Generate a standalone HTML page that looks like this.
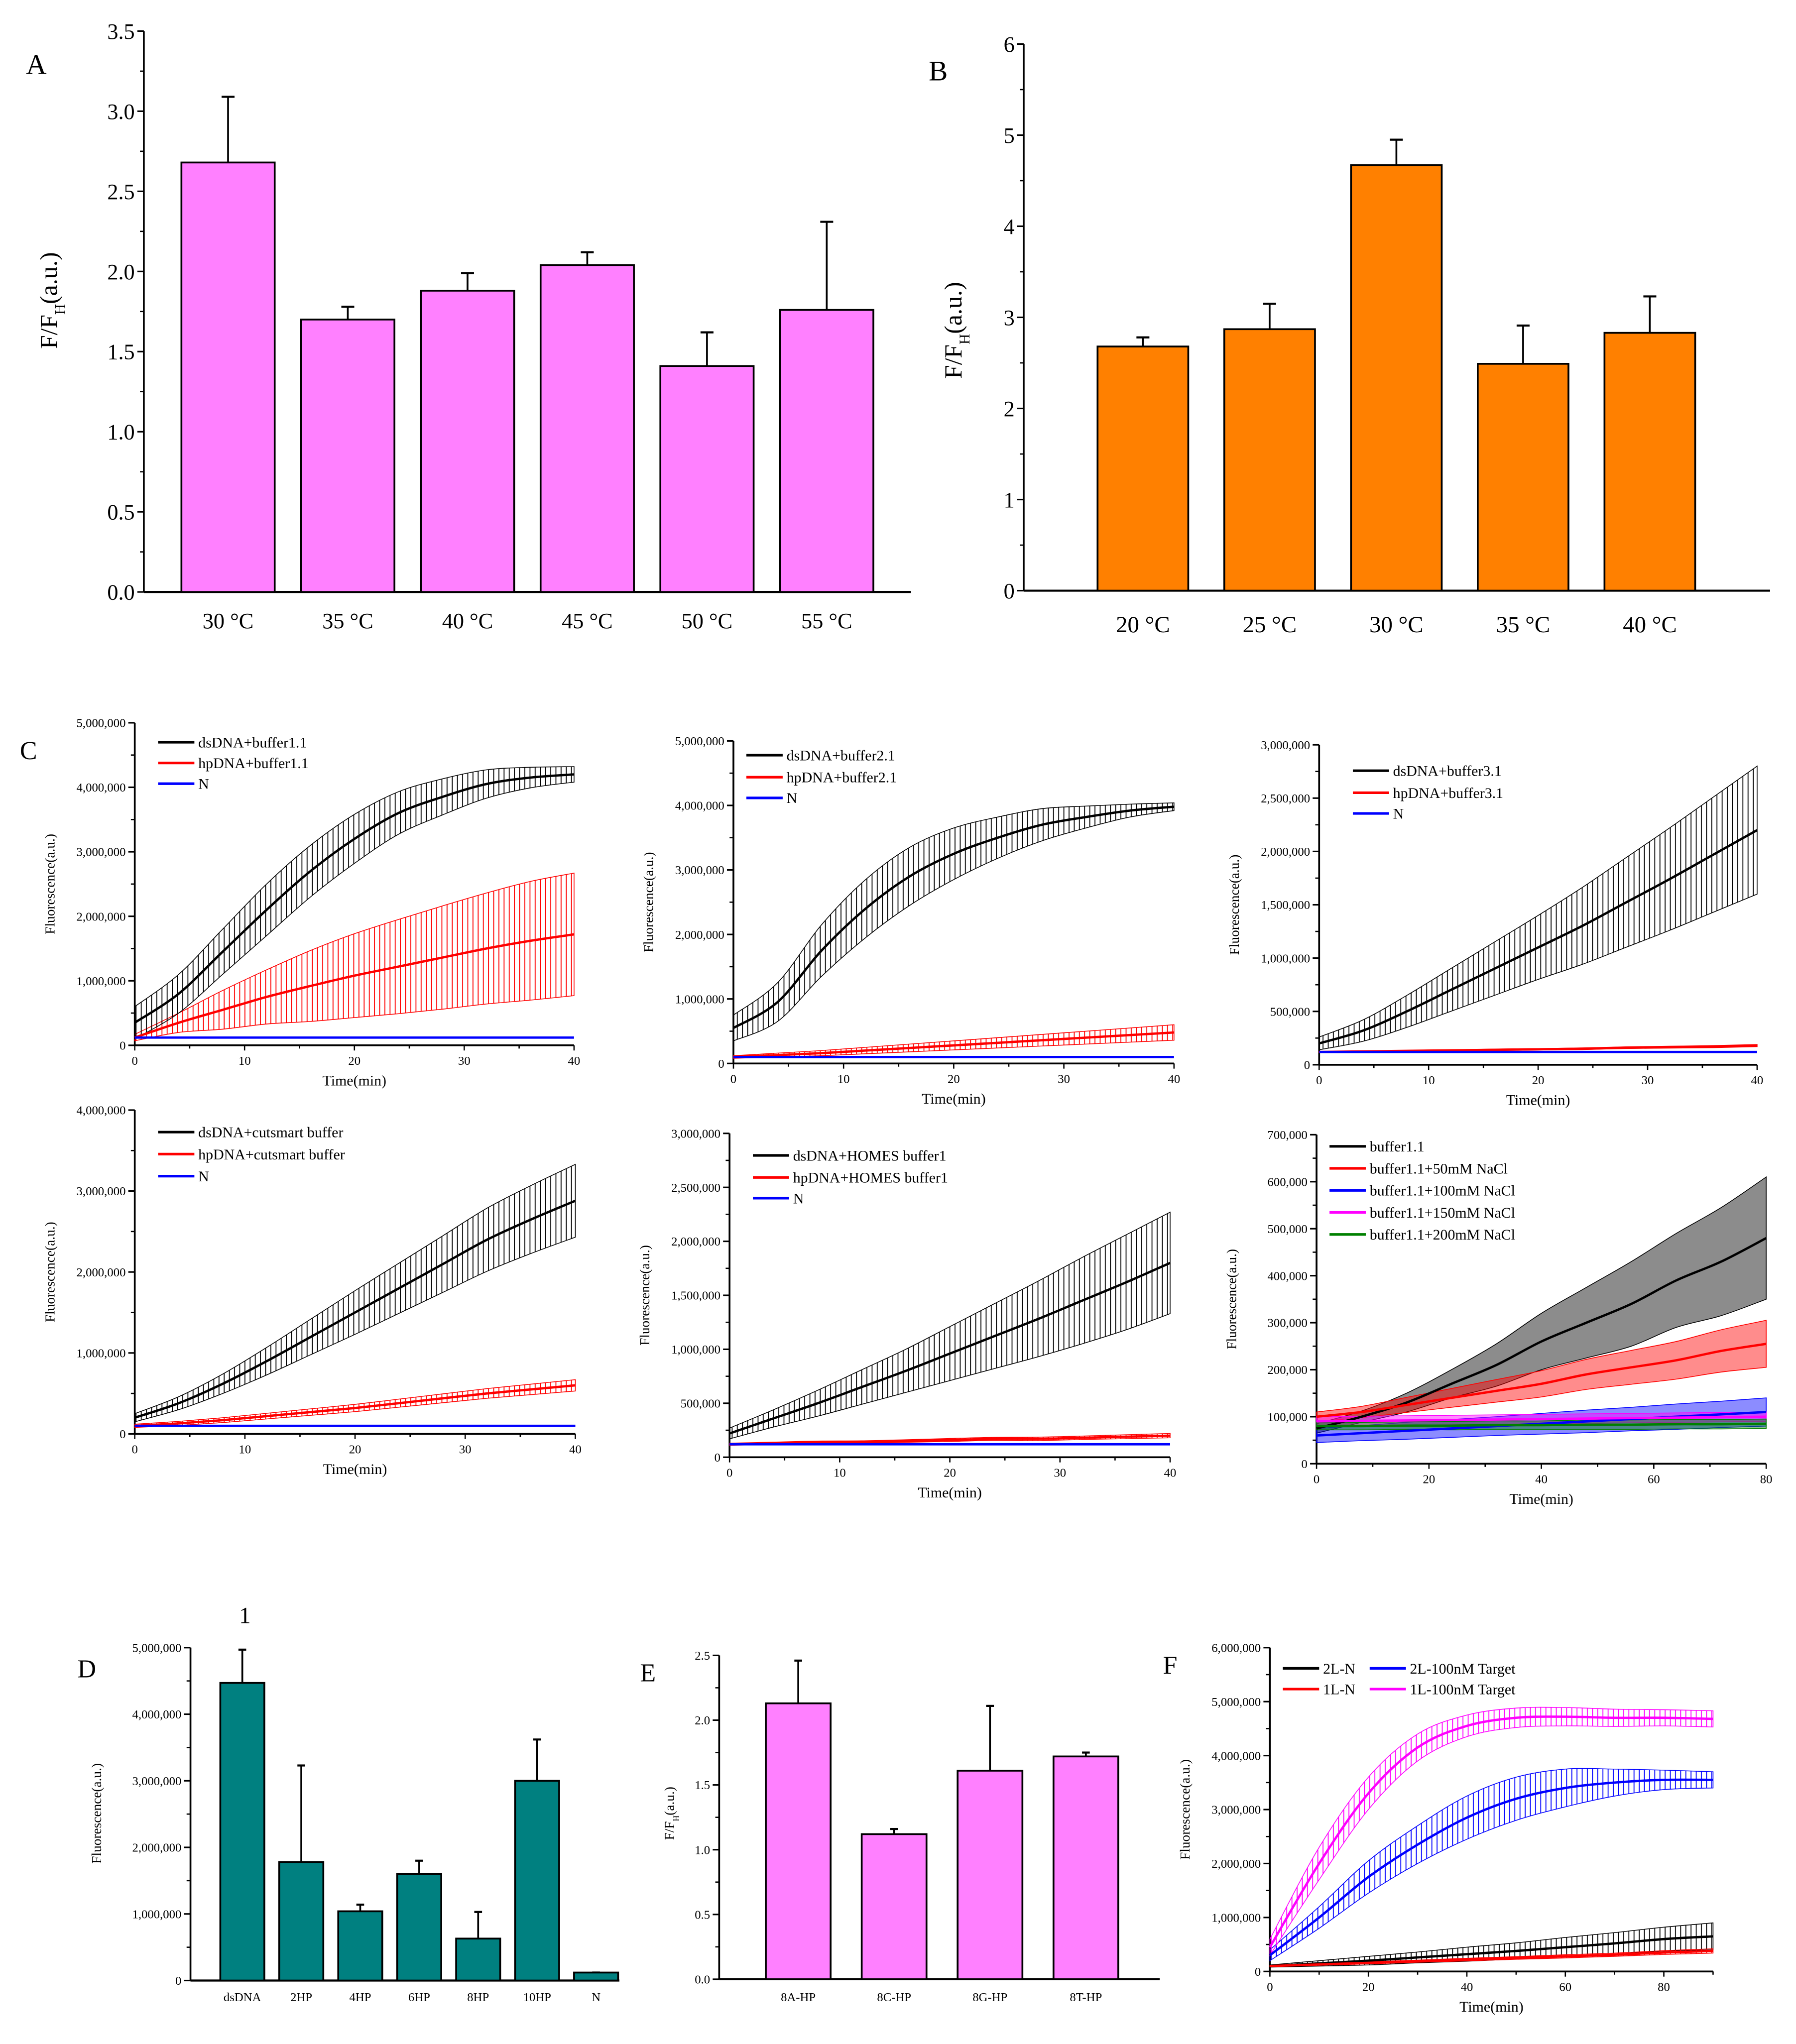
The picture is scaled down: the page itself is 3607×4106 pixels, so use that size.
<!DOCTYPE html>
<html><head><meta charset="utf-8"><style>
html,body{margin:0;padding:0;background:#fff}
svg{display:block;font-family:"Liberation Serif",serif}
</style></head><body>
<svg id="fig" xmlns="http://www.w3.org/2000/svg" width="3607" height="4106" viewBox="0 0 1386 1578" preserveAspectRatio="none">
<defs></defs>
</svg>
<script>
// ---------- data ----------
const catA = ["30 °C","35 °C","40 °C","45 °C","50 °C","55 °C"];
const valA = [2.68,1.70,1.88,2.04,1.41,1.76];
const errA = [0.41,0.08,0.11,0.08,0.21,0.55];
const catB = ["20 °C","25 °C","30 °C","35 °C","40 °C"];
const valB = [2.68,2.87,4.67,2.49,2.83];
const errB = [0.10,0.28,0.28,0.42,0.40];
const catD = ["dsDNA","2HP","4HP","6HP","8HP","10HP","N"];
const valD = [4470000,1780000,1040000,1600000,630000,3000000,120000];
const errD = [500000,1450000,100000,200000,400000,620000,0];
const catE = ["8A-HP","8C-HP","8G-HP","8T-HP"];
const valE = [2.13,1.12,1.61,1.72];
const errE = [0.33,0.04,0.50,0.03];

const t40 = [0,4,8,12,16,20,24,28,32,36,40];
const t80 = [0,8,16,24,32,40,48,56,64,72,80];
const t90 = [0,10,20,30,40,50,60,70,80,90];

const c1Black=[0.35,0.8,1.45,2.1,2.7,3.2,3.6,3.85,4.05,4.15,4.2];
const c1BlackErr=[0.25,0.3,0.35,0.4,0.4,0.38,0.33,0.28,0.22,0.16,0.12];
const c1Red=[0.12,0.35,0.55,0.75,0.92,1.08,1.22,1.36,1.5,1.62,1.72];
const c1RedErr=[0.05,0.15,0.3,0.42,0.55,0.65,0.73,0.8,0.86,0.92,0.95];
const c1Blue=[0.12,0.12,0.12,0.12,0.12,0.12,0.12,0.12,0.12,0.12,0.12];

const c2Black=[0.55,0.95,1.75,2.4,2.9,3.25,3.5,3.7,3.82,3.92,3.98];
const c2BlackErr=[0.2,0.3,0.4,0.45,0.45,0.4,0.32,0.25,0.17,0.1,0.06];
const c2Red=[0.1,0.13,0.16,0.2,0.24,0.28,0.32,0.36,0.4,0.44,0.48];
const c2RedErr=[0.02,0.03,0.04,0.05,0.06,0.07,0.08,0.09,0.1,0.11,0.12];
const c2Blue=[0.1,0.1,0.1,0.1,0.1,0.1,0.1,0.1,0.1,0.1,0.1];

const c3Black=[0.2,0.32,0.5,0.7,0.9,1.1,1.3,1.52,1.74,1.97,2.2];
const c3BlackErr=[0.06,0.1,0.15,0.2,0.25,0.3,0.36,0.42,0.48,0.54,0.6];
const c3Red=[0.12,0.125,0.13,0.135,0.14,0.145,0.15,0.16,0.165,0.17,0.18];
const c3RedErr=[0.005,0.005,0.006,0.006,0.007,0.007,0.008,0.008,0.009,0.01,0.01];
const c3Blue=[0.12,0.12,0.12,0.12,0.12,0.12,0.12,0.12,0.12,0.12,0.12];

const c4Black=[0.2,0.38,0.62,0.9,1.2,1.5,1.8,2.1,2.4,2.65,2.88];
const c4BlackErr=[0.05,0.08,0.12,0.17,0.22,0.27,0.31,0.35,0.39,0.42,0.45];
const c4Red=[0.1,0.13,0.17,0.22,0.27,0.32,0.38,0.44,0.5,0.55,0.6];
const c4RedErr=[0.02,0.025,0.03,0.035,0.04,0.045,0.05,0.055,0.06,0.065,0.07];
const c4Blue=[0.1,0.1,0.1,0.1,0.1,0.1,0.1,0.1,0.1,0.1,0.1];

const c5Black=[0.22,0.36,0.5,0.65,0.8,0.96,1.12,1.28,1.45,1.62,1.8];
const c5BlackErr=[0.05,0.08,0.12,0.16,0.2,0.25,0.3,0.35,0.4,0.44,0.47];
const c5Red=[0.12,0.13,0.14,0.14,0.15,0.16,0.17,0.17,0.18,0.19,0.2];
const c5RedErr=[0.01,0.01,0.01,0.012,0.012,0.014,0.014,0.016,0.016,0.018,0.02];
const c5Blue=[0.12,0.12,0.12,0.12,0.12,0.12,0.12,0.12,0.12,0.12,0.12];

const c6Black=[0.075,0.1,0.13,0.17,0.21,0.26,0.3,0.34,0.39,0.43,0.48];
const c6BlackErr=[0.01,0.012,0.02,0.03,0.045,0.06,0.075,0.09,0.1,0.115,0.13];
const c6Red=[0.1,0.11,0.125,0.14,0.155,0.17,0.19,0.205,0.22,0.24,0.255];
const c6RedErr=[0.01,0.012,0.016,0.02,0.024,0.028,0.032,0.036,0.04,0.045,0.05];
const c6Blue=[0.06,0.065,0.07,0.075,0.08,0.085,0.09,0.095,0.1,0.105,0.11];
const c6BlueErr=[0.015,0.016,0.018,0.019,0.02,0.022,0.024,0.025,0.027,0.028,0.03];
const c6Mag=[0.09,0.091,0.092,0.093,0.094,0.095,0.096,0.097,0.098,0.099,0.1];
const c6MagErr=[0.01,0.01,0.01,0.01,0.01,0.01,0.01,0.01,0.01,0.01,0.01];
const c6Green=[0.08,0.08,0.081,0.081,0.082,0.082,0.083,0.083,0.084,0.084,0.085];
const c6GreenErr=[0.008,0.008,0.008,0.009,0.009,0.009,0.01,0.01,0.01,0.01,0.01];

const fMag=[0.45,2.0,3.3,4.15,4.55,4.7,4.72,4.7,4.7,4.68];
const fMagErr=[0.15,0.3,0.3,0.25,0.2,0.18,0.17,0.16,0.15,0.15];
const fBlue=[0.3,1.0,1.75,2.35,2.85,3.2,3.4,3.5,3.55,3.55];
const fBlueErr=[0.1,0.2,0.3,0.35,0.4,0.4,0.35,0.25,0.18,0.15];
const fBlack=[0.1,0.15,0.2,0.26,0.32,0.38,0.45,0.52,0.6,0.65];
const fBlackErr=[0.02,0.05,0.08,0.1,0.13,0.15,0.18,0.2,0.22,0.25];
const fRed=[0.1,0.13,0.16,0.19,0.22,0.25,0.28,0.31,0.35,0.38];
const fRedErr=[0.01,0.015,0.02,0.02,0.025,0.025,0.03,0.03,0.035,0.04];

// ---------- helpers ----------
const NS="http://www.w3.org/2000/svg";
const svg=document.getElementById('fig');
const defs=svg.querySelector('defs');
function mk(tag,attrs,parent){const e=document.createElementNS(NS,tag);for(const k in attrs)e.setAttribute(k,attrs[k]);(parent||svg).appendChild(e);return e;}
function txt(s,x,y,size,anchor,parent){const e=mk('text',{x:x,y:y,'font-size':size,'text-anchor':anchor||'middle',fill:'#000'},parent);e.textContent=s;return e;}
function fmt(v){return Math.round(v).toLocaleString('en-US');}
function ylabelFH(x,y,size,parent){
  const e=mk('text',{transform:`translate(${x},${y}) rotate(-90)`,'font-size':size,'text-anchor':'middle',fill:'#000'},parent);
  
  
  const a=mk('tspan',{},e);a.textContent='F/F';
  const b=mk('tspan',{'baseline-shift':'sub','font-size':size*0.6},e);b.textContent='H';
  const c=mk('tspan',{},e);c.textContent='(a.u.)';
}
function panelLetter(s,x,y,size){const e=txt(s,x,y,size,'middle');}

function yAxis(g,ax,ytop,ybot,ymax,step,fs,tickFmt,minor){
  const sy=v=>ybot-v/ymax*(ybot-ytop);
  const ln=mk('line',{x1:ax,y1:ytop,x2:ax,y2:ybot,stroke:'#000','stroke-width':1.4},g);
  
  for(let v=0;v<=ymax+1e-9;v+=step){
    mk('line',{x1:ax-5,y1:sy(v),x2:ax,y2:sy(v),stroke:'#000','stroke-width':1.2},g);
    const t=txt(tickFmt(v),ax-7,sy(v)+fs*0.35,fs,'end',g);
    
    if(minor&&v+step/2<=ymax) mk('line',{x1:ax-3,y1:sy(v+step/2),x2:ax,y2:sy(v+step/2),stroke:'#000','stroke-width':1},g);
  }
  return sy;
}
function barChart(name,cfg){
  const g=mk('g',{});
  const sy=yAxis(g,cfg.ax,cfg.ytop,cfg.ybot,cfg.ymax,cfg.step,cfg.fs,cfg.tickFmt,true);
  const xl=mk('line',{x1:cfg.ax,y1:cfg.ybot,x2:cfg.xend,y2:cfg.ybot,stroke:'#000','stroke-width':1.6},g);
  
  const n=cfg.cats.length;
  for(let i=0;i<n;i++){
    const cx=cfg.c0+i*cfg.dx;
    const top=sy(cfg.vals[i]), eTop=sy(cfg.vals[i]+cfg.errs[i]);
    const el=mk('line',{x1:cx,y1:top,x2:cx,y2:eTop,stroke:'#000','stroke-width':1.4},g);
    
    mk('line',{x1:cx-cfg.cap,y1:eTop,x2:cx+cfg.cap,y2:eTop,stroke:'#000','stroke-width':1.6},g);
    const r=mk('rect',{x:cx-cfg.bw/2,y:top,width:cfg.bw,height:cfg.ybot-top,fill:cfg.color,stroke:'#000','stroke-width':1.4},g);
    
    const l=txt(cfg.cats[i],cx,cfg.labY,cfg.lfs,'middle',g);
    
  }
  return g;
}
let patId=0;
function hatch(color){
  const id='h'+(patId++);
  const p=mk('pattern',{id:id,patternUnits:'userSpaceOnUse',width:4,height:10},defs);
  mk('line',{x1:1,y1:0,x2:1,y2:10,stroke:color,'stroke-width':0.7},p);
  return 'url(#'+id+')';
}
function smoothPath(pts){
  let d='M'+pts[0][0]+','+pts[0][1];
  for(let i=0;i<pts.length-1;i++){
    const p0=pts[Math.max(0,i-1)],p1=pts[i],p2=pts[i+1],p3=pts[Math.min(pts.length-1,i+2)];
    const c1=[p1[0]+(p2[0]-p0[0])/6,p1[1]+(p2[1]-p0[1])/6];
    const c2=[p2[0]-(p3[0]-p1[0])/6,p2[1]-(p3[1]-p1[1])/6];
    d+=`C${c1[0]},${c1[1]} ${c2[0]},${c2[1]} ${p2[0]},${p2[1]}`;
  }
  return d;
}
function lineChart(name,cfg){
  const g=mk('g',{});
  const sy=yAxis(g,cfg.ax,cfg.ytop,cfg.ybot,cfg.ymax,cfg.step,cfg.fs,v=>fmt(v*cfg.unit),true);
  const sx=t=>cfg.ax+t/cfg.xmax*(cfg.xend-cfg.ax);
  const xl=mk('line',{x1:cfg.ax,y1:cfg.ybot,x2:cfg.xend,y2:cfg.ybot,stroke:'#000','stroke-width':1.4},g);
  
  for(let t=0;t<=cfg.xmax+1e-9;t+=cfg.xstep){
    mk('line',{x1:sx(t),y1:cfg.ybot,x2:sx(t),y2:cfg.ybot+4,stroke:'#000','stroke-width':1},g);
    const l=txt(String(t),sx(t),cfg.ybot+15,cfg.fs,'middle',g);
    
    if(t+cfg.xstep/2<=cfg.xmax) mk('line',{x1:sx(t+cfg.xstep/2),y1:cfg.ybot,x2:sx(t+cfg.xstep/2),y2:cfg.ybot+2.5,stroke:'#000','stroke-width':1},g);
  }
  const xt=txt('Time(min)',(cfg.ax+cfg.xend)/2,cfg.ybot+31,cfg.fs+2,'middle',g);
  
  const yt=mk('text',{transform:`translate(${cfg.ax-62},${(cfg.ytop+cfg.ybot)/2}) rotate(-90)`,'font-size':cfg.fs+1,'text-anchor':'middle',fill:'#000'},g);
  yt.textContent='Fluorescence(a.u.)';
  
  cfg.series.forEach((s,si)=>{
    if(s.err){
      const up=s.v.map((v,i)=>[sx(cfg.t[i]),sy(v+s.err[i])]);
      const dn=s.v.map((v,i)=>[sx(cfg.t[i]),sy(v-s.err[i])]).reverse();
      const d=smoothPath(up)+' L'+smoothPath(dn).slice(1)+'Z';
      const band=mk('path',{d:d,fill:cfg.solid?s.c:hatch(s.c),'fill-opacity':cfg.solid?0.45:1,stroke:s.c,'stroke-width':0.6},g);
      
    }
  });
  cfg.series.forEach((s,si)=>{
    const pts=s.v.map((v,i)=>[sx(cfg.t[i]),sy(v)]);
    const p=mk('path',{d:smoothPath(pts),fill:'none',stroke:s.c,'stroke-width':1.8},g);
    
  });
  cfg.legend.forEach((L,i)=>{
    const lg=mk('g',{},g);
    mk('line',{x1:L.x,y1:L.y,x2:L.x+28,y2:L.y,stroke:L.c,'stroke-width':2},lg);
    txt(L.s,L.x+31,L.y+4,cfg.lgfs||11.5,'start',lg);
  });
}

// ---------- Panel A ----------
panelLetter('A',28,57,22);
barChart('chart-a',{cats:catA,vals:valA,errs:errA,ax:111,ytop:24,ybot:457,ymax:3.5,step:0.5,fs:17,tickFmt:v=>v.toFixed(1),xend:703,c0:176,dx:92.4,bw:72,cap:5,color:'#ff80ff',labY:485,lfs:17});
ylabelFH(44,232,19);
// ---------- Panel B ----------
panelLetter('B',724,62,22);
barChart('chart-b',{cats:catB,vals:valB,errs:errB,ax:790,ytop:34,ybot:456,ymax:6,step:1,fs:17,tickFmt:v=>String(v),xend:1366,c0:882,dx:97.8,bw:70,cap:5,color:'#ff8000',labY:488,lfs:18});
ylabelFH(742,255,19);

// ---------- Panel C ----------
panelLetter('C',22,586,20);
const B='#000',R='#ff0000',U='#0000ff',M='#ff00ff',G='#008000';
lineChart('chart-c1',{ax:104,ytop:558,ybot:807,ymax:5,step:1,unit:1e6,xend:443,xmax:40,xstep:10,fs:9.5,t:t40,
  series:[{v:c1Red,err:c1RedErr,c:R},{v:c1Black,err:c1BlackErr,c:B},{v:c1Blue,c:U}],
  legend:[{x:122,y:573,c:B,s:'dsDNA+buffer1.1'},{x:122,y:589,c:R,s:'hpDNA+buffer1.1'},{x:122,y:605,c:U,s:'N'}]});
lineChart('chart-c2',{ax:566,ytop:572,ybot:821,ymax:5,step:1,unit:1e6,xend:906,xmax:40,xstep:10,fs:9.5,t:t40,
  series:[{v:c2Red,err:c2RedErr,c:R},{v:c2Black,err:c2BlackErr,c:B},{v:c2Blue,c:U}],
  legend:[{x:576,y:583,c:B,s:'dsDNA+buffer2.1'},{x:576,y:600,c:R,s:'hpDNA+buffer2.1'},{x:576,y:616,c:U,s:'N'}]});
lineChart('chart-c3',{ax:1018,ytop:575,ybot:822,ymax:3,step:0.5,unit:1e6,xend:1356,xmax:40,xstep:10,fs:9.5,t:t40,
  series:[{v:c3Red,err:c3RedErr,c:R},{v:c3Black,err:c3BlackErr,c:B},{v:c3Blue,c:U}],
  legend:[{x:1044,y:595,c:B,s:'dsDNA+buffer3.1'},{x:1044,y:612,c:R,s:'hpDNA+buffer3.1'},{x:1044,y:628,c:U,s:'N'}]});
lineChart('chart-c4',{ax:104,ytop:857,ybot:1107,ymax:4,step:1,unit:1e6,xend:444,xmax:40,xstep:10,fs:9.5,t:t40,
  series:[{v:c4Red,err:c4RedErr,c:R},{v:c4Black,err:c4BlackErr,c:B},{v:c4Blue,c:U}],
  legend:[{x:122,y:874,c:B,s:'dsDNA+cutsmart buffer'},{x:122,y:891,c:R,s:'hpDNA+cutsmart buffer'},{x:122,y:908,c:U,s:'N'}]});
lineChart('chart-c5',{ax:563,ytop:875,ybot:1125,ymax:3,step:0.5,unit:1e6,xend:903,xmax:40,xstep:10,fs:9.5,t:t40,
  series:[{v:c5Red,err:c5RedErr,c:R},{v:c5Black,err:c5BlackErr,c:B},{v:c5Blue,c:U}],
  legend:[{x:581,y:892,c:B,s:'dsDNA+HOMES buffer1'},{x:581,y:909,c:R,s:'hpDNA+HOMES buffer1'},{x:581,y:925,c:U,s:'N'}]});
lineChart('chart-c6',{ax:1016,ytop:876,ybot:1130,ymax:0.7,step:0.1,unit:1e6,xend:1363,xmax:80,xstep:20,fs:9.5,t:t80,solid:true,
  series:[{v:c6Black,err:c6BlackErr,c:B},{v:c6Red,err:c6RedErr,c:R},{v:c6Blue,err:c6BlueErr,c:U},{v:c6Mag,err:c6MagErr,c:M},{v:c6Green,err:c6GreenErr,c:G}],
  legend:[{x:1026,y:885,c:B,s:'buffer1.1'},{x:1026,y:902,c:R,s:'buffer1.1+50mM NaCl'},{x:1026,y:919,c:U,s:'buffer1.1+100mM NaCl'},{x:1026,y:936,c:M,s:'buffer1.1+150mM NaCl'},{x:1026,y:953,c:G,s:'buffer1.1+200mM NaCl'}]});

// ---------- Panel D ----------
panelLetter('D',67,1295,20);
(function(){const t=txt('1',189,1253,18,'middle');})();
barChart('chart-d',{cats:catD,vals:valD,errs:errD,ax:147,ytop:1272,ybot:1529,ymax:5e6,step:1e6,fs:9.5,tickFmt:fmt,xend:478,c0:187,dx:45.5,bw:34,cap:3,color:'#008080',labY:1545,lfs:9.5});
(function(){const yt=mk('text',{transform:'translate(78,1400) rotate(-90)','font-size':10.5,'text-anchor':'middle',fill:'#000'});yt.textContent='Fluorescence(a.u.)';})();

// ---------- Panel E ----------
panelLetter('E',500,1298,20);
barChart('chart-e',{cats:catE,vals:valE,errs:errE,ax:555,ytop:1278,ybot:1528,ymax:2.5,step:0.5,fs:9.5,tickFmt:v=>v.toFixed(1),xend:895,c0:616,dx:74,bw:50,cap:3,color:'#ff80ff',labY:1545,lfs:9.5});
ylabelFH(520,1400,10.5);

// ---------- Panel F ----------
panelLetter('F',903,1292,20);
lineChart('chart-f',{ax:980,ytop:1272,ybot:1522,ymax:6,step:1,unit:1e6,xend:1322,xmax:90,xstep:20,fs:9.5,t:t90,
  series:[{v:fBlack,err:fBlackErr,c:B},{v:fRed,err:fRedErr,c:R},{v:fBlue,err:fBlueErr,c:U},{v:fMag,err:fMagErr,c:M}],
  legend:[{x:990,y:1288,c:B,s:'2L-N'},{x:1057,y:1288,c:U,s:'2L-100nM Target'},{x:990,y:1304,c:R,s:'1L-N'},{x:1057,y:1304,c:M,s:'1L-100nM Target'}]});
</script>
</body></html>
